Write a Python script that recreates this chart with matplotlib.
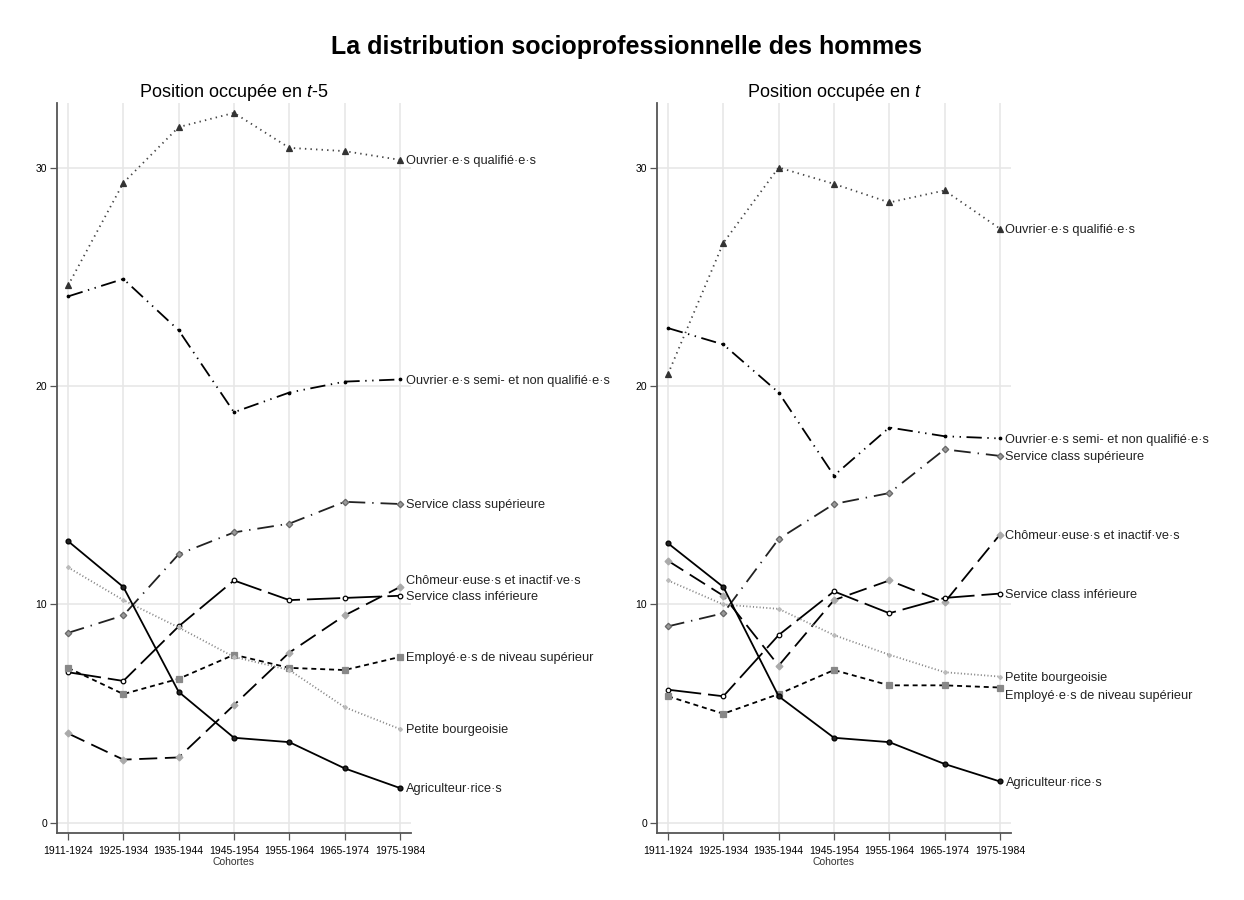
import numpy as np
import matplotlib
matplotlib.use("Agg")
import matplotlib.pyplot as plt

plt.rcParams['font.family'] = ['Liberation Sans', 'DejaVu Sans']
plt.rcParams['mathtext.fontset'] = 'custom'
plt.rcParams['mathtext.rm'] = 'Liberation Sans'
plt.rcParams['mathtext.it'] = 'Liberation Sans:italic'
plt.rcParams['lines.scale_dashes'] = False

cohortes = ['1911-1924', '1925-1934', '1935-1944', '1945-1954',
            '1955-1964', '1965-1974', '1975-1984']

categories = ['Ouvrier·e·s qualifié·e·s',
              'Ouvrier·e·s semi- et non qualifié·e·s',
              'Service class supérieure',
              'Chômeur·euse·s et inactif·ve·s',
              'Service class inférieure',
              'Employé·e·s de niveau supérieur',
              'Petite bourgeoisie',
              'Agriculteur·rice·s']

# position en t-5
t5_ouv_qual = [24.6, 29.3, 31.85, 32.5, 30.9, 30.75, 30.35]
t5_ouv_semi = [24.1, 24.9, 22.55, 18.8, 19.7, 20.2, 20.3]
t5_serv_sup = [8.7, 9.5, 12.3, 13.3, 13.7, 14.7, 14.6]
t5_chomeurs = [4.1, 2.9, 3.0, 5.4, 7.8, 9.5, 10.8]
t5_serv_inf = [6.9, 6.5, 9.0, 11.1, 10.2, 10.3, 10.4]
t5_employes = [7.1, 5.9, 6.6, 7.7, 7.1, 7.0, 7.6]
t5_petite_b = [11.7, 10.2, 8.95, 7.6, 7.0, 5.3, 4.3]
t5_agric = [12.9, 10.8, 6.0, 3.9, 3.7, 2.5, 1.6]

# position en t
t_ouv_qual = [20.55, 26.55, 30.0, 29.25, 28.4, 28.95, 27.2]
t_ouv_semi = [22.65, 21.9, 19.7, 15.9, 18.1, 17.7, 17.6]
t_serv_sup = [9.0, 9.6, 13.0, 14.6, 15.1, 17.1, 16.8]
t_chomeurs = [12.0, 10.4, 7.2, 10.2, 11.1, 10.1, 13.2]
t_serv_inf = [6.1, 5.8, 8.6, 10.6, 9.6, 10.3, 10.5]
t_employes = [5.8, 5.0, 5.9, 7.0, 6.3, 6.3, 6.2]
t_petite_b = [11.1, 10.0, 9.8, 8.6, 7.7, 6.9, 6.7]
t_agric = [12.8, 10.8, 5.8, 3.9, 3.7, 2.7, 1.9]

series_t5 = [t5_ouv_qual, t5_ouv_semi, t5_serv_sup, t5_chomeurs,
             t5_serv_inf, t5_employes, t5_petite_b, t5_agric]
series_t = [t_ouv_qual, t_ouv_semi, t_serv_sup, t_chomeurs,
            t_serv_inf, t_employes, t_petite_b, t_agric]

# line styles (dashes in points)
styles = [
    dict(color='#444444', dashes=(1, 3), marker='^', mfc='#333333', mec='#333333', ms=4),
    dict(color='black', dashes=(11, 4, 1, 4, 1, 4), marker='o', mfc='black', mec='black', ms=1.8),
    dict(color='#222222', dashes=(12, 5, 1, 5), marker='D', mfc='#999999', mec='#666666', ms=3.3),
    dict(color='black', dashes=(13, 5.5), marker='D', mfc='#aaaaaa', mec='#aaaaaa', ms=3.5),
    dict(color='black', dashes=(24, 5), marker='o', mfc='white', mec='black', ms=3.3),
    dict(color='black', dashes=(3.6, 2.8), marker='s', mfc='#888888', mec='#888888', ms=4),
    dict(color='#888888', dashes=(0.8, 1.6), marker='D', mfc='#bbbbbb', mec='#bbbbbb', ms=2),
    dict(color='black', dashes=(), marker='o', mfc='#222222', mec='black', ms=3.5),
]

# vertical nudge of end labels (points)
label_dy_t5 = [-1, -1, -1, 4, -1, -1, -1, -1]
label_dy_t = [-1, -1, -1, -1, -1, -6, -1, -1]

fig = plt.figure(figsize=(12.44, 9), dpi=100)
fig.text(0.504, 0.948, 'La distribution socioprofessionnelle des hommes',
         ha='center', va='center', fontsize=18, fontweight='bold')

ax1 = fig.add_axes([0.0458, 0.0744, 0.2846, 0.8111])
ax2 = fig.add_axes([0.5281, 0.0744, 0.2846, 0.8111])

x = np.arange(len(cohortes))

for ax, series, dys, title in [(ax1, series_t5, label_dy_t5, 'Position occupée en $\\it{t}$-5'),
                               (ax2, series_t, label_dy_t, 'Position occupée en $\\it{t}$')]:
    for vals, st, name, dy in zip(series, styles, categories, dys):
        line, = ax.plot(x, vals, color=st['color'], lw=1.3, marker=st['marker'],
                        markersize=st['ms'], markerfacecolor=st['mfc'],
                        markeredgecolor=st['mec'], markeredgewidth=0.9, zorder=3)
        if st['dashes']:
            line.set_dashes(st['dashes'])
        ax.annotate(name, xy=(x[-1], vals[-1]), xytext=(4, dy),
                    textcoords='offset points', ha='left', va='center',
                    fontsize=9.2, color='#222222', annotation_clip=False)
    ax.set_xlim(-0.2, 6.2)
    ax.set_ylim(-0.46, 32.95)
    ax.set_xticks(x)
    ax.set_xticklabels(cohortes, fontsize=7.5)
    ax.set_yticks([0, 10, 20, 30])
    ax.set_yticklabels(['0', '10', '20', '30'], fontsize=7.5)
    ax.set_xlabel('Cohortes', fontsize=7.5, labelpad=1, color='#333333')
    ax.set_title(title, fontsize=13, pad=3)
    ax.grid(True, color='#e6e6e6', lw=1.1, zorder=0)
    ax.set_axisbelow(True)
    for s in ['top', 'right']:
        ax.spines[s].set_visible(False)
    for s in ['left', 'bottom']:
        ax.spines[s].set_color('#555555')
        ax.spines[s].set_linewidth(1.3)
    ax.tick_params(axis='x', length=5, width=0.9, color='#555555', pad=4)
    ax.tick_params(axis='y', length=5, width=0.9, color='#555555', pad=2)

fig.savefig('out.png', dpi=100)
